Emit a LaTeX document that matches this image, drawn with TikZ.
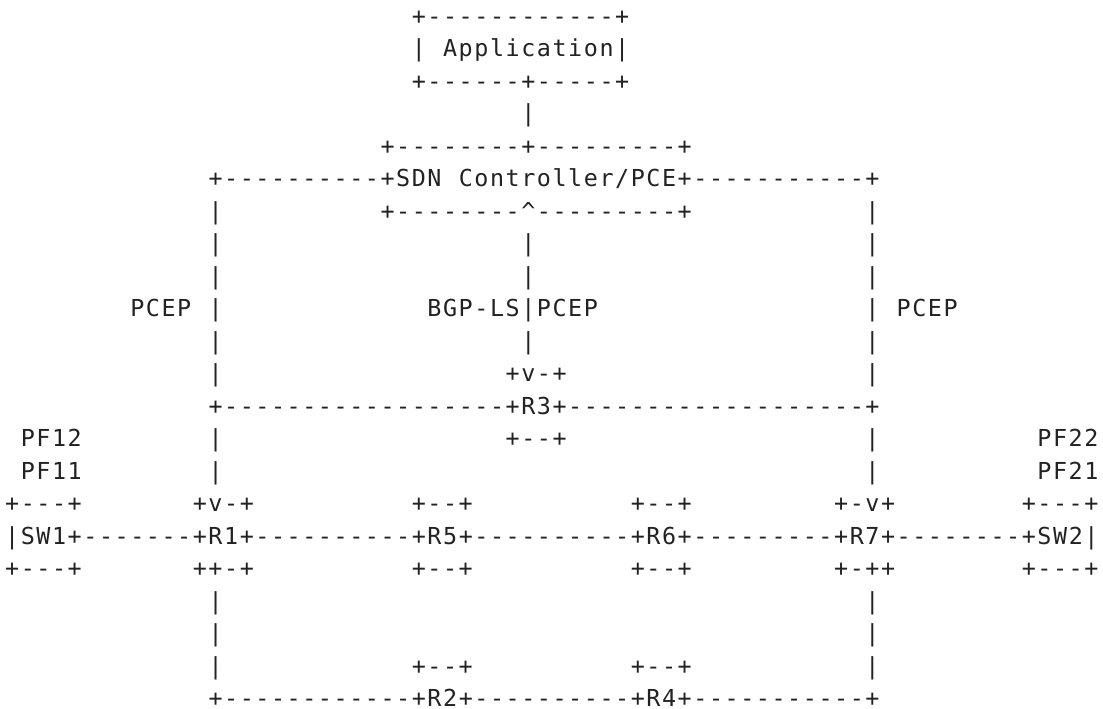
\documentclass[tikz,border=0pt]{standalone}
\usepackage{fontspec}
\setmonofont{DejaVu Sans Mono}[LetterSpace=6.69]
\usepackage{tikz}
\definecolor{asciigray}{RGB}{34,34,34}
\tikzstyle{txt} = [anchor=base west, inner sep=0pt, outer sep=0pt, text=asciigray, font=\ttfamily\fontsize{9pt}{11pt}\selectfont]

\begin{document}
\begin{tikzpicture}[x=6.02pt, y=-12.5pt]
        \useasboundingbox (-0.331,0.246) rectangle (70.19,22.076);
        %Application
        \node [txt] (app top) at (26,1) {+------------+};
        \node [txt] (app side) at (26,2) {|};
        \node [txt] (app) at (28,2) {Application|};
        \node [txt] (app bottom) at (26,3) {+------+-----+};
        \node [txt] (app link) at (33,4) {|};
        %Controller
        \node [txt] (pce top) at (24,5) {+--------+---------+};
        \node [txt] (pce left) at (13,6) {+----------+SDN};
        \node [txt] (pce) at (29,6) {Controller/PCE+-----------+};
        \node [txt] (pcep l7) at (13,7) {|};
        \node [txt] (pce bottom) at (24,7) {+--------\textasciicircum---------+};
        \node [txt] (pcep r7) at (55,7) {|};
        %Sessions
        \node [txt] (pcep l8) at (13,8) {|};
        \node [txt] (bgp 8) at (33,8) {|};
        \node [txt] (pcep r8) at (55,8) {|};
        \node [txt] (pcep l9) at (13,9) {|};
        \node [txt] (bgp 9) at (33,9) {|};
        \node [txt] (pcep r9) at (55,9) {|};
        \node [txt] (pcep left label) at (8,10) {PCEP};
        \node [txt] (pcep l10) at (13,10) {|};
        \node [txt] (bgp label) at (27,10) {BGP-LS|PCEP};
        \node [txt] (pcep r10) at (55,10) {|};
        \node [txt] (pcep right label) at (57,10) {PCEP};
        \node [txt] (pcep l11) at (13,11) {|};
        \node [txt] (bgp 11) at (33,11) {|};
        \node [txt] (pcep r11) at (55,11) {|};
        %R3
        \node [txt] (pcep l12) at (13,12) {|};
        \node [txt] (R3 top) at (32,12) {+v-+};
        \node [txt] (pcep r12) at (55,12) {|};
        \node [txt] (R3) at (13,13) {+------------------+R3+-------------------+};
        \node [txt] (pf12) at (1,14) {PF12};
        \node [txt] (pcep l14) at (13,14) {|};
        \node [txt] (R3 bottom) at (32,14) {+--+};
        \node [txt] (pcep r14) at (55,14) {|};
        \node [txt] (pf22) at (66,14) {PF22};
        \node [txt] (pf11) at (1,15) {PF11};
        \node [txt] (pcep l15) at (13,15) {|};
        \node [txt] (pcep r15) at (55,15) {|};
        \node [txt] (pf21) at (66,15) {PF21};
        %Main path
        \node [txt] (SW1 top) at (0,16) {+---+};
        \node [txt] (R1 top) at (12,16) {+v-+};
        \node [txt] (R5 top) at (26,16) {+--+};
        \node [txt] (R6 top) at (40,16) {+--+};
        \node [txt] (R7 top) at (53,16) {+-v+};
        \node [txt] (SW2 top) at (65,16) {+---+};
        \node [txt] (path) at (0,17) {|SW1+-------+R1+----------+R5+----------+R6+---------+R7+--------+SW2|};
        \node [txt] (SW1 bottom) at (0,18) {+---+};
        \node [txt] (R1 bottom) at (12,18) {++-+};
        \node [txt] (R5 bottom) at (26,18) {+--+};
        \node [txt] (R6 bottom) at (40,18) {+--+};
        \node [txt] (R7 bottom) at (53,18) {+-++};
        \node [txt] (SW2 bottom) at (65,18) {+---+};
        %Lower path
        \node [txt] (low l19) at (13,19) {|};
        \node [txt] (low r19) at (55,19) {|};
        \node [txt] (low l20) at (13,20) {|};
        \node [txt] (low r20) at (55,20) {|};
        \node [txt] (low l21) at (13,21) {|};
        \node [txt] (R2 top) at (26,21) {+--+};
        \node [txt] (R4 top) at (40,21) {+--+};
        \node [txt] (low r21) at (55,21) {|};
        \node [txt] (low path) at (13,22) {+------------+R2+----------+R4+-----------+};
\end{tikzpicture}
\end{document}
